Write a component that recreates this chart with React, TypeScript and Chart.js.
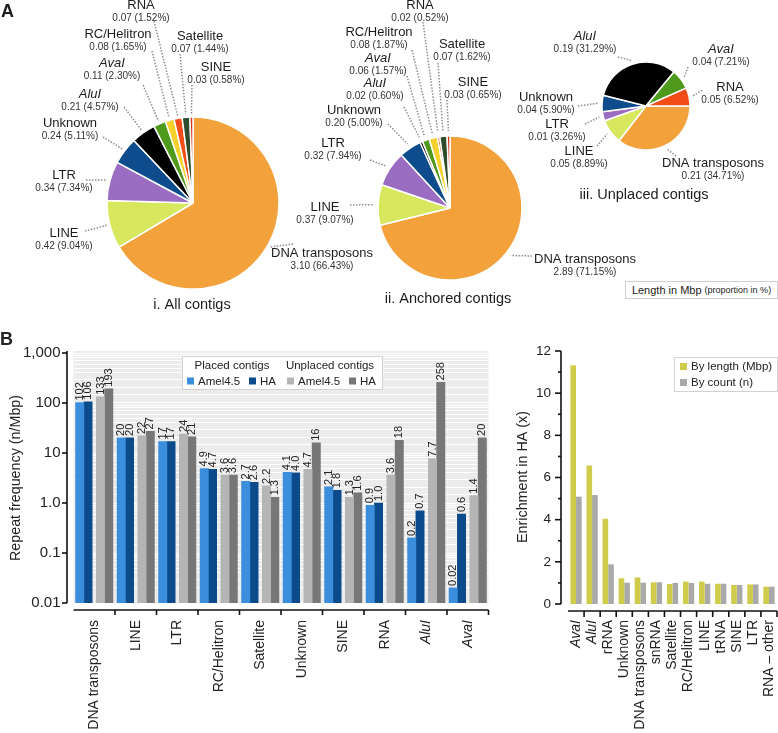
import React, { useEffect, useRef } from 'react';
import { Chart, registerables } from 'chart.js';

Chart.register(...registerables);

const FONT = "'Liberation Sans', Arial, Helvetica, sans-serif";
Chart.defaults.font.family = FONT;
Chart.defaults.color = '#222';

// ---------------- Panel A: pie data ----------------
const pieCategories = ['DNA transposons', 'LINE', 'LTR', 'Unknown', 'AluI', 'AvaI', 'RC/Helitron', 'RNA', 'Satellite', 'SINE'];
const allMbp = [3.10, 0.42, 0.34, 0.24, 0.21, 0.11, 0.08, 0.07, 0.07, 0.03];
const allPct = [66.43, 9.04, 7.34, 5.11, 4.57, 2.30, 1.65, 1.52, 1.44, 0.58];
const anchoredMbp = [2.89, 0.37, 0.32, 0.20, 0.02, 0.06, 0.08, 0.02, 0.07, 0.03];
const anchoredPct = [71.15, 9.07, 7.94, 5.00, 0.60, 1.57, 1.87, 0.52, 1.62, 0.65];
const unplacedCategories = ['DNA transposons', 'LINE', 'LTR', 'Unknown', 'AluI', 'AvaI', 'RNA'];
const unplacedMbp = [0.21, 0.05, 0.01, 0.04, 0.19, 0.04, 0.05];
const unplacedPct = [34.71, 8.89, 3.26, 5.90, 31.29, 7.21, 6.52];

const repeatColors: Record<string, string> = {
  'DNA transposons': '#F2A13B',
  LINE: '#D8E85E',
  LTR: '#9B6DC2',
  Unknown: '#0E4C8E',
  AluI: '#000000',
  AvaI: '#4F9A1C',
  'RC/Helitron': '#F6D12E',
  RNA: '#F24C17',
  Satellite: '#2D4A2B',
  SINE: '#D9341F',
};
const italicNames = new Set(['AluI', 'AvaI']);

// annotation layout (label text centre + leader-line start)
type LabelPos = { x: number; y: number; lx: number; ly: number };
const allLabelPos: Record<string, LabelPos> = {
  'DNA transposons': { x: 322, y: 253, lx: 293, ly: 244 },
  LINE: { x: 64, y: 233, lx: 85, ly: 231 },
  LTR: { x: 64, y: 175, lx: 86, ly: 180 },
  Unknown: { x: 70, y: 123, lx: 103, ly: 137 },
  AluI: { x: 90, y: 94, lx: 124, ly: 107 },
  AvaI: { x: 112, y: 63, lx: 143, ly: 85 },
  'RC/Helitron': { x: 118, y: 34, lx: 152, ly: 51 },
  RNA: { x: 141, y: 5, lx: 154, ly: 21 },
  Satellite: { x: 200, y: 36, lx: 180, ly: 54 },
  SINE: { x: 216, y: 67, lx: 192, ly: 85 },
};
const anchoredLabelPos: Record<string, LabelPos> = {
  'DNA transposons': { x: 585, y: 259, lx: 532, ly: 256 },
  LINE: { x: 325, y: 207, lx: 350, ly: 205 },
  LTR: { x: 333, y: 143, lx: 370, ly: 160 },
  Unknown: { x: 354, y: 110, lx: 388, ly: 124 },
  AluI: { x: 375, y: 83, lx: 404, ly: 107 },
  AvaI: { x: 378, y: 58, lx: 407, ly: 76 },
  'RC/Helitron': { x: 379, y: 32, lx: 412, ly: 50 },
  RNA: { x: 420, y: 5, lx: 423, ly: 22 },
  Satellite: { x: 462, y: 44, lx: 438, ly: 63 },
  SINE: { x: 473, y: 82, lx: 447, ly: 100 },
};
const unplacedLabelPos: Record<string, LabelPos> = {
  'DNA transposons': { x: 713, y: 163, lx: 676, ly: 156 },
  LINE: { x: 579, y: 151, lx: 597, ly: 146 },
  LTR: { x: 557, y: 124, lx: 585, ly: 124 },
  Unknown: { x: 546, y: 97, lx: 578, ly: 106 },
  AluI: { x: 585, y: 36, lx: 618, ly: 57 },
  AvaI: { x: 721, y: 49, lx: 688, ly: 67 },
  RNA: { x: 730, y: 87, lx: 702, ly: 90 },
};

// ---------------- Panel B left: repeat frequency ----------------
const freqCategories = ['DNA transposons', 'LINE', 'LTR', 'RC/Helitron', 'Satellite', 'Unknown', 'SINE', 'RNA', 'AluI', 'AvaI'];
const placedAmel = [102, 20, 17, 4.9, 2.7, 4.1, 2.1, 0.9, 0.2, 0.02];
const placedHA = [106, 20, 17, 4.7, 2.6, 4.0, 1.8, 1.0, 0.7, 0.6];
const unplacedAmel = [133, 22, 24, 3.6, 2.2, 4.7, 1.3, 3.6, 7.7, 1.4];
const unplacedHA = [193, 27, 21, 3.6, 1.3, 16, 1.6, 18, 258, 20];
const freqTickLabels = ['0.01', '0.1', '1.0', '10', '100', '1,000'];

// ---------------- Panel B right: enrichment ----------------
const enrichCategories = ['AvaI', 'AluI', 'rRNA', 'Unknown', 'DNA transposons', 'snRNA', 'Satellite', 'RC/Helitron', 'LINE', 'tRNA', 'SINE', 'LTR', 'RNA – other'];
const byLength = [11.33, 6.57, 4.04, 1.22, 1.26, 1.03, 0.95, 1.06, 1.06, 0.96, 0.90, 0.93, 0.82];
const byCount = [5.09, 5.17, 1.88, 1.01, 1.01, 1.03, 1.00, 1.00, 0.96, 0.96, 0.90, 0.93, 0.82];

const fmtFreq = (v: number) => (v >= 10 ? String(Math.round(v)) : v < 0.1 ? v.toFixed(2) : v.toFixed(1));

// ---------------- plugins ----------------
const pieLabelPlugin = {
  id: 'pieLabels',
  afterDraw(chart: any, _a: any, opts: any) {
    const { ctx } = chart;
    const meta = chart.getDatasetMeta(0);
    const labels: string[] = chart.data.labels;
    ctx.save();
    meta.data.forEach((arc: any, i: number) => {
      const name = labels[i];
      const pos = opts.positions[name];
      if (!pos) return;
      const p = arc.getProps(['x', 'y', 'startAngle', 'endAngle', 'outerRadius'], true);
      const mid = (p.startAngle + p.endAngle) / 2;
      const ex = p.x + Math.cos(mid) * (p.outerRadius + opts.gap);
      const ey = p.y + Math.sin(mid) * (p.outerRadius + opts.gap);
      ctx.beginPath();
      ctx.setLineDash([1.5, 1.5]);
      ctx.lineWidth = 1.5;
      ctx.strokeStyle = '#8e8e8e';
      ctx.moveTo(pos.lx, pos.ly);
      ctx.lineTo(ex, ey);
      ctx.stroke();
      ctx.setLineDash([]);
      ctx.textAlign = 'center';
      ctx.textBaseline = 'middle';
      ctx.fillStyle = '#1c1c1c';
      ctx.font = `${italicNames.has(name) ? 'italic ' : ''}13px ${FONT}`;
      ctx.fillText(name, pos.x, pos.y);
      ctx.fillStyle = '#333';
      ctx.font = `10px ${FONT}`;
      ctx.fillText(`${opts.mbp[i].toFixed(2)} (${opts.pct[i].toFixed(2)}%)`, pos.x, pos.y + 13);
    });
    ctx.textAlign = 'center';
    ctx.textBaseline = 'middle';
    ctx.fillStyle = '#1c1c1c';
    ctx.font = `14.5px ${FONT}`;
    ctx.fillText(opts.title, opts.titleX, opts.titleY);
    if (opts.letter) {
      ctx.textAlign = 'left';
      ctx.textBaseline = 'alphabetic';
      ctx.font = `bold 18px ${FONT}`;
      ctx.fillText(opts.letter, 1, 17);
    }
    ctx.restore();
  },
};

function line(ctx: any, x1: number, y1: number, x2: number, y2: number) {
  ctx.beginPath();
  ctx.moveTo(x1, y1);
  ctx.lineTo(x2, y2);
  ctx.stroke();
}

const freqPlugin = {
  id: 'freqDeco',
  beforeDraw(chart: any) {
    const { ctx, chartArea: a } = chart;
    ctx.save();
    ctx.fillStyle = '#ECECEC';
    ctx.fillRect(a.left, a.top - 2, a.right - a.left, a.bottom - a.top + 2);
    ctx.restore();
  },
  afterDatasetsDraw(chart: any) {
    const { ctx } = chart;
    ctx.save();
    ctx.font = `11px ${FONT}`;
    ctx.fillStyle = '#222';
    ctx.textAlign = 'left';
    ctx.textBaseline = 'middle';
    chart.data.datasets.forEach((ds: any, di: number) => {
      const meta = chart.getDatasetMeta(di);
      meta.data.forEach((bar: any, i: number) => {
        ctx.save();
        ctx.translate(bar.x, bar.y - 2);
        ctx.rotate(-Math.PI / 2);
        ctx.fillText(fmtFreq(ds.data[i].y), 0, 0);
        ctx.restore();
      });
    });
    ctx.restore();
  },
  afterDraw(chart: any) {
    const { ctx, chartArea: a, scales } = chart;
    ctx.save();
    ctx.strokeStyle = '#111';
    ctx.lineWidth = 1.6;
    const ax = a.left - 6.5;
    line(ctx, ax, a.top - 2, ax, a.bottom);
    for (let e = -2; e <= 3; e++) {
      const y = scales.y.getPixelForValue(Math.pow(10, e));
      line(ctx, ax - 5, y, ax, y);
    }
    const ay = a.bottom + 7;
    line(ctx, a.left, ay, a.right, ay);
    for (let i = 1; i <= freqCategories.length; i++) {
      const x = scales.x.getPixelForValue(i);
      line(ctx, x, ay, x, ay + 5);
    }
    // legend
    const ds = chart.data.datasets;
    ctx.fillStyle = '#ffffff';
    ctx.fillRect(182, 26, 200, 33);
    ctx.strokeStyle = '#d2d2d2';
    ctx.lineWidth = 1;
    ctx.strokeRect(182.5, 26.5, 200, 33);
    ctx.fillStyle = '#222';
    ctx.font = `11.5px ${FONT}`;
    ctx.textBaseline = 'middle';
    ctx.textAlign = 'center';
    ctx.fillText('Placed contigs', 232, 35.5);
    ctx.fillText('Unplaced contigs', 330, 35.5);
    ctx.textAlign = 'left';
    const sq = [187, 249, 287, 349];
    ds.forEach((d: any, i: number) => {
      ctx.fillStyle = d.backgroundColor;
      ctx.fillRect(sq[i], 47.5, 7, 7);
      ctx.fillStyle = '#222';
      ctx.fillText(d.label, sq[i] + 11, 51.5);
    });
    // y title
    ctx.save();
    ctx.translate(16, 148);
    ctx.rotate(-Math.PI / 2);
    ctx.textAlign = 'center';
    ctx.font = `14.3px ${FONT}`;
    ctx.fillText('Repeat frequency (n/Mbp)', 0, 0);
    ctx.restore();
    // panel letter
    ctx.textAlign = 'left';
    ctx.textBaseline = 'alphabetic';
    ctx.font = `bold 18px ${FONT}`;
    ctx.fillText('B', 0, 15);
    ctx.restore();
  },
};

const enrichPlugin = {
  id: 'enrichDeco',
  afterDraw(chart: any) {
    const { ctx, chartArea: a, scales } = chart;
    ctx.save();
    ctx.strokeStyle = '#111';
    ctx.lineWidth = 1.6;
    const ax = a.left - 7;
    line(ctx, ax, a.top, ax, a.bottom);
    for (let v = 0; v <= 12; v++) {
      const y = scales.y.getPixelForValue(v);
      line(ctx, ax - (v % 2 === 0 ? 6 : 3), y, ax, y);
    }
    const ay = a.bottom + 7;
    line(ctx, a.left, ay, a.right, ay);
    const n = enrichCategories.length;
    for (let i = 1; i <= n; i++) {
      const x = a.left + (i * (a.right - a.left)) / n;
      line(ctx, x, ay, x, ay + 6);
    }
    // legend
    ctx.fillStyle = '#ffffff';
    ctx.fillRect(174, 27, 103, 34);
    ctx.strokeStyle = '#d2d2d2';
    ctx.lineWidth = 1;
    ctx.strokeRect(174.5, 27.5, 103, 34);
    ctx.font = `11.5px ${FONT}`;
    ctx.textAlign = 'left';
    ctx.textBaseline = 'middle';
    chart.data.datasets.forEach((d: any, i: number) => {
      const y = 36.5 + i * 16;
      ctx.fillStyle = d.backgroundColor;
      ctx.fillRect(180, y - 3.5, 7, 7);
      ctx.fillStyle = '#222';
      ctx.fillText(d.label, 191, y);
    });
    ctx.save();
    ctx.translate(23, 147);
    ctx.rotate(-Math.PI / 2);
    ctx.textAlign = 'center';
    ctx.font = `14.3px ${FONT}`;
    ctx.fillStyle = '#222';
    ctx.fillText('Enrichment in HA (x)', 0, 0);
    ctx.restore();
    ctx.restore();
  },
};

// ---------------- configs ----------------
const TOP_W = 778;
const TOP_H = 330;

function pieConfig(
  categories: string[], mbp: number[], pct: number[], cx: number, cy: number, r: number,
  rotation: number, positions: Record<string, LabelPos>, gap: number, title: string,
  titleX: number, titleY: number, letter?: string,
): any {
  return {
    type: 'pie',
    data: {
      labels: categories,
      datasets: [{
        data: pct,
        backgroundColor: categories.map((c) => repeatColors[c]),
        borderColor: '#ffffff',
        borderWidth: 1.5,
        hoverOffset: 0,
        radius: r,
        rotation,
      }],
    },
    options: {
      responsive: false,
      animation: false,
      events: [],
      radius: r,
      rotation,
      layout: { padding: { left: cx - r, top: cy - r, right: TOP_W - cx - r, bottom: TOP_H - cy - r } },
      plugins: {
        legend: { display: false },
        tooltip: { enabled: false },
        pieLabels: { positions, gap, mbp, pct, title, titleX, titleY, letter },
      },
    },
    plugins: [pieLabelPlugin],
  };
}

function freqConfig(): any {
  const series = [
    { label: 'Amel4.5', values: placedAmel, color: '#3A8EDC', offset: 0.15 },
    { label: 'HA', values: placedHA, color: '#0B4A8B', offset: 0.35 },
    { label: 'Amel4.5', values: unplacedAmel, color: '#B5B5B5', offset: 0.65 },
    { label: 'HA', values: unplacedHA, color: '#777777', offset: 0.85 },
  ];
  return {
    type: 'bar',
    data: {
      datasets: series.map((s) => ({
        label: s.label,
        data: s.values.map((v, i) => ({ x: i + s.offset, y: v })),
        backgroundColor: s.color,
        grouped: false,
        barPercentage: 1,
        categoryPercentage: 1,
        borderWidth: 0,
      })),
    },
    options: {
      responsive: false,
      animation: false,
      events: [],
      layout: { padding: { left: 0, top: 23, right: 11.5, bottom: 0 } },
      plugins: { legend: { display: false }, tooltip: { enabled: false } },
      scales: {
        x: {
          type: 'linear',
          min: 0,
          max: freqCategories.length,
          offset: false,
          grid: { display: false, drawTicks: false },
          border: { display: false },
          ticks: {
            stepSize: 0.5,
            autoSkip: false,
            minRotation: 90,
            maxRotation: 90,
            padding: 17,
            color: '#222',
            font: (c: any) => {
              const v = c.tick ? c.tick.value : 0;
              const name = freqCategories[Math.floor(v)] || '';
              return { family: FONT, size: 14, style: italicNames.has(name) ? 'italic' : 'normal' };
            },
            callback: (v: number) => {
              const k = v - Math.floor(v);
              return Math.abs(k - 0.5) < 1e-6 ? freqCategories[Math.floor(v)] : '';
            },
          },
          afterFit: (s: any) => {
            s.height = 130;
            s.paddingLeft = 0;
            s.paddingRight = 0;
          },
        },
        y: {
          type: 'logarithmic',
          min: 0.01,
          max: 1000,
          grid: { color: '#ffffff', lineWidth: 1, drawTicks: false },
          border: { display: false },
          ticks: {
            autoSkip: false,
            padding: 13,
            color: '#222',
            font: { size: 15 },
            callback: (v: number) => {
              const l = Math.log10(v);
              const r = Math.round(l);
              return Math.abs(l - r) < 1e-6 ? freqTickLabels[r + 2] : '';
            },
          },
          afterFit: (s: any) => {
            s.width = 73.5;
            s.paddingTop = 0;
            s.paddingBottom = 0;
          },
        },
      },
    },
    plugins: [freqPlugin],
  };
}

function enrichConfig(): any {
  return {
    type: 'bar',
    data: {
      labels: enrichCategories,
      datasets: [
        { label: 'By length (Mbp)', data: byLength, backgroundColor: '#CFCC4B', categoryPercentage: 0.7, barPercentage: 1, borderWidth: 0 },
        { label: 'By count (n)', data: byCount, backgroundColor: '#A9A9A9', categoryPercentage: 0.7, barPercentage: 1, borderWidth: 0 },
      ],
    },
    options: {
      responsive: false,
      animation: false,
      events: [],
      layout: { padding: { left: 0, top: 21, right: 1, bottom: 0 } },
      plugins: { legend: { display: false }, tooltip: { enabled: false } },
      scales: {
        x: {
          grid: { display: false, drawTicks: false },
          border: { display: false },
          ticks: {
            autoSkip: false,
            minRotation: 90,
            maxRotation: 90,
            padding: 16,
            color: '#222',
            font: (c: any) => {
              const name = enrichCategories[c.index] || '';
              return { family: FONT, size: 14, style: italicNames.has(name) ? 'italic' : 'normal' };
            },
          },
          afterFit: (s: any) => {
            s.height = 129;
            s.paddingLeft = 0;
            s.paddingRight = 0;
          },
        },
        y: {
          min: 0,
          max: 12,
          grid: { display: false, drawTicks: false },
          border: { display: false },
          ticks: {
            stepSize: 1,
            autoSkip: false,
            padding: 17,
            color: '#222',
            font: { size: 13.5 },
            callback: (v: number) => (v % 2 === 0 ? String(v) : ''),
          },
          afterFit: (s: any) => {
            s.width = 68;
            s.paddingTop = 0;
            s.paddingBottom = 0;
          },
        },
      },
    },
    plugins: [enrichPlugin],
  };
}

function ChartCanvas({ make, left, top, width, height }: { make: () => any; left: number; top: number; width: number; height: number }) {
  const ref = useRef<HTMLCanvasElement>(null);
  useEffect(() => {
    if (!ref.current) return;
    const chart = new Chart(ref.current, make());
    return () => chart.destroy();
  }, []);
  return <canvas ref={ref} width={width} height={height} style={{ position: 'absolute', left, top, width, height }} />;
}

export default function App() {
  return (
    <div style={{ position: 'absolute', left: 0, top: 0, width: 778, height: 733, background: '#fff', overflow: 'hidden', fontFamily: FONT }}>
      <ChartCanvas left={0} top={0} width={TOP_W} height={TOP_H}
        make={() => pieConfig(pieCategories, allMbp, allPct, 193, 203, 86, 0, allLabelPos, 3, 'i. All contigs', 192, 305, 'A')} />
      <ChartCanvas left={0} top={0} width={TOP_W} height={TOP_H}
        make={() => pieConfig(pieCategories, anchoredMbp, anchoredPct, 450, 208, 72, 0, anchoredLabelPos, 5, 'ii. Anchored contigs', 448, 299)} />
      <ChartCanvas left={0} top={0} width={TOP_W} height={TOP_H}
        make={() => pieConfig(unplacedCategories, unplacedMbp, unplacedPct, 646, 106, 44, 90, unplacedLabelPos, 4, 'iii. Unplaced contigs', 644, 195)} />
      <div style={{ position: 'absolute', left: 625, top: 281, width: 153, height: 18, boxSizing: 'border-box', border: '1px solid #cfcfcf', background: '#fff', display: 'flex', alignItems: 'center', justifyContent: 'center', whiteSpace: 'nowrap', color: '#1c1c1c' }}>
        <span style={{ fontSize: 11 }}>Length in Mbp</span>
        <span style={{ fontSize: 9, marginLeft: 3 }}>(proportion in %)</span>
      </div>
      <ChartCanvas left={0} top={330} width={500} height={403} make={freqConfig} />
      <ChartCanvas left={500} top={330} width={278} height={403} make={enrichConfig} />
    </div>
  );
}
